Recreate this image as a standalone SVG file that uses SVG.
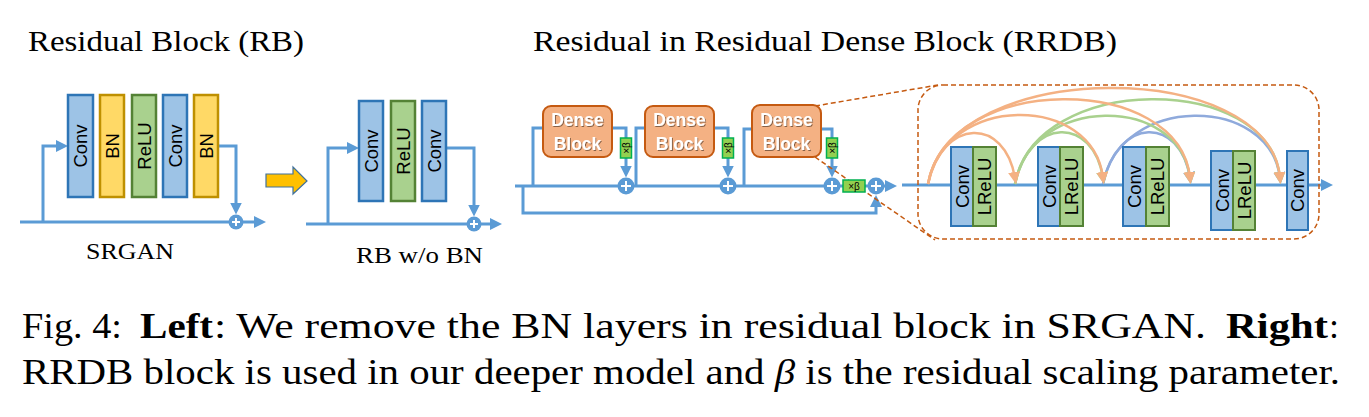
<svg xmlns="http://www.w3.org/2000/svg" width="1369" height="417" viewBox="0 0 1369 417">
<style>
.bg{fill:#fff}
.serif{fill:#000}
.lbl{font-family:"Liberation Sans",Arial,sans-serif;fill:#000;text-anchor:middle}
.conv{fill:#9DC3E6;stroke:#2E75B6;stroke-width:2.5}
.bn{fill:#FFD966;stroke:#BF9000;stroke-width:2.5}
.relu{fill:#A9D18E;stroke:#548235;stroke-width:2.5}
.dconv{fill:#9DC3E6;stroke:#2E75B6;stroke-width:2}
.dlrelu{fill:#A9D18E;stroke:#548235;stroke-width:2}
.db{fill:#F4B183;stroke:#C55A11;stroke-width:2}
.dbt{font-family:"Liberation Sans",Arial,sans-serif;font-weight:bold;font-size:17.5px;fill:#fff;text-anchor:middle}
.beta{fill:#92D050;stroke:#00B050;stroke-width:1.5}
.betat{font-family:"Liberation Sans",Arial,sans-serif;font-size:10px;fill:#000;text-anchor:middle}
.ln{fill:none;stroke:#5B9BD5;stroke-width:3}
.lnA{fill:none;stroke:#5B9BD5;stroke-width:3;marker-end:url(#ah)}
.plus{fill:#5B9BD5}
.pl{stroke:#fff;stroke-width:2;fill:none}
.dash{fill:none;stroke:#C55A11;stroke-width:1.5;stroke-dasharray:5 3}
.ao{fill:none;stroke:#F4B183;stroke-width:2.5;marker-end:url(#aho)}
.ag{fill:none;stroke:#A9D18E;stroke-width:2.5;marker-end:url(#ahg)}
.ab{fill:none;stroke:#8FAADC;stroke-width:2.5;marker-end:url(#ahb)}
</style>
<defs>
<marker id="ah" viewBox="0 0 12 12" refX="4" refY="6" markerWidth="12" markerHeight="12" markerUnits="userSpaceOnUse" orient="auto"><path d="M0,0 L12,6 L0,12 Z" fill="#5B9BD5"/></marker>
<marker id="aho" viewBox="0 0 12 12" refX="6" refY="6" markerWidth="12" markerHeight="12" markerUnits="userSpaceOnUse" orient="auto"><path d="M0,0 L12,6 L0,12 Z" fill="#F4B183"/></marker>
<marker id="ahg" viewBox="0 0 12 12" refX="6" refY="6" markerWidth="12" markerHeight="12" markerUnits="userSpaceOnUse" orient="auto"><path d="M0,0 L12,6 L0,12 Z" fill="#A9D18E"/></marker>
<marker id="ahb" viewBox="0 0 12 12" refX="6" refY="6" markerWidth="12" markerHeight="12" markerUnits="userSpaceOnUse" orient="auto"><path d="M0,0 L12,6 L0,12 Z" fill="#8FAADC"/></marker>
<filter id="sh" x="-20%" y="-20%" width="140%" height="140%"><feDropShadow dx="1" dy="1" stdDeviation="0.7" flood-color="#000" flood-opacity="0.45"/></filter>
</defs>
<rect class="bg" x="0" y="0" width="1369" height="417"/>

<g id="titles" font-family="Liberation Serif, Times New Roman, serif">
<text class="serif" x="28" y="51" font-size="30" textLength="276" lengthAdjust="spacingAndGlyphs">Residual Block (RB)</text>
<text class="serif" x="533" y="51" font-size="30" textLength="584" lengthAdjust="spacingAndGlyphs">Residual in Residual Dense Block (RRDB)</text>
<text class="serif" x="86" y="259" font-size="23" textLength="88" lengthAdjust="spacingAndGlyphs">SRGAN</text>
<text class="serif" x="356" y="263" font-size="23" textLength="127" lengthAdjust="spacingAndGlyphs">RB w/o BN</text>
</g>

<g id="connectors">
<path class="lnA" d="M20,222 H258"/>
<path class="lnA" d="M43,222 V146 H60"/>
<path class="lnA" d="M218,146 H236 V206.5"/>
<path class="lnA" d="M306,224 H494"/>
<path class="lnA" d="M328,224 V148 H351"/>
<path class="lnA" d="M446,148 H474 V208.5"/>
<path class="lnA" d="M515,186 H889"/>
<path class="ln" d="M533,186 V128 H543"/>
<path class="lnA" d="M612,128 H626 V169.5"/>
<path class="ln" d="M636,186 V128 H645"/>
<path class="lnA" d="M714,128 H728 V169.5"/>
<path class="ln" d="M744,186 V129 H752"/>
<path class="lnA" d="M821,129 H832 V169.5"/>
<path class="lnA" d="M523,186 V213 H876 V203"/>
<path class="dash" d="M815,106 L938,85"/>
<path class="dash" d="M815,157 L935,240"/>
<path class="lnA" d="M902,185 H1325"/>
</g>

<g id="orange-arrow">
<path d="M266,174 H293 V167 L307,181 L293,194 V187 H266 Z" fill="#FFC000" stroke="#41719C" stroke-width="1.2"/>
</g>

<g id="rb-srgan">
<rect class="conv" x="68" y="95" width="25" height="102"/>
<text class="lbl" font-size="18.5" transform="translate(80.5,146) rotate(-90)" dy="6.5">Conv</text>
<rect class="bn" x="100" y="95" width="24" height="102"/>
<text class="lbl" font-size="18.5" transform="translate(112,146) rotate(-90)" dy="6.5">BN</text>
<rect class="relu" x="132" y="95" width="24" height="102"/>
<text class="lbl" font-size="18.5" transform="translate(144,146) rotate(-90)" dy="6.5">ReLU</text>
<rect class="conv" x="163" y="95" width="24" height="102"/>
<text class="lbl" font-size="18.5" transform="translate(175,146) rotate(-90)" dy="6.5">Conv</text>
<rect class="bn" x="194" y="95" width="24" height="102"/>
<text class="lbl" font-size="18.5" transform="translate(206,146) rotate(-90)" dy="6.5">BN</text>
<g id="plus-rb1"><circle class="plus" cx="236" cy="222" r="7.5"/><path class="pl" d="M232,222 H240 M236,218 V226"/></g>
</g>

<g id="rb-wo-bn">
<rect class="conv" x="359" y="101" width="24" height="100"/>
<text class="lbl" font-size="18.5" transform="translate(371,151) rotate(-90)" dy="6.5">Conv</text>
<rect class="relu" x="391" y="101" width="24" height="100"/>
<text class="lbl" font-size="18.5" transform="translate(403,151) rotate(-90)" dy="6.5">ReLU</text>
<rect class="conv" x="422" y="101" width="24" height="100"/>
<text class="lbl" font-size="18.5" transform="translate(434,151) rotate(-90)" dy="6.5">Conv</text>
<g id="plus-rb2"><circle class="plus" cx="474" cy="224" r="7.5"/><path class="pl" d="M470,224 H478 M474,220 V228"/></g>
</g>

<g id="dense-block-1">
<rect class="db" x="543" y="106" width="69" height="51" rx="8"/>
<g filter="url(#sh)"><text class="dbt" x="577.5" y="126">Dense</text><text class="dbt" x="577.5" y="150">Block</text></g>
<rect class="beta" x="620.5" y="138" width="11" height="20"/>
<text class="betat" transform="translate(626,148) rotate(-90)" dy="3.5">×β</text>
<g><circle class="plus" cx="626" cy="186" r="8.5"/><path class="pl" d="M621,186 H631 M626,181 V191"/></g>
</g>

<g id="dense-block-2">
<rect class="db" x="645" y="106" width="69" height="51" rx="8"/>
<g filter="url(#sh)"><text class="dbt" x="679.5" y="126">Dense</text><text class="dbt" x="679.5" y="150">Block</text></g>
<rect class="beta" x="722.5" y="138" width="11" height="20"/>
<text class="betat" transform="translate(728,148) rotate(-90)" dy="3.5">×β</text>
<g><circle class="plus" cx="728" cy="186" r="8.5"/><path class="pl" d="M723,186 H733 M728,181 V191"/></g>
</g>

<g id="dense-block-3">
<rect class="db" x="752" y="105" width="69" height="52" rx="8"/>
<g filter="url(#sh)"><text class="dbt" x="786.5" y="126">Dense</text><text class="dbt" x="786.5" y="150">Block</text></g>
<rect class="beta" x="826.5" y="138" width="11" height="20"/>
<text class="betat" transform="translate(832,148) rotate(-90)" dy="3.5">×β</text>
<g><circle class="plus" cx="832" cy="186" r="8.5"/><path class="pl" d="M827,186 H837 M832,181 V191"/></g>
</g>

<g id="rrdb-out">
<rect class="beta" x="843" y="180" width="22" height="12"/>
<text class="betat" x="854" y="190">×β</text>
<g><circle class="plus" cx="876" cy="186" r="8.5"/><path class="pl" d="M871,186 H881 M876,181 V191"/></g>
</g>

<g id="dense-detail">
<rect class="dash" x="918" y="85" width="401" height="154" rx="25"/>
<g id="arcs">
<path class="ab" d="M1103,184 C1118,116 1180,116 1190,178"/>
<path class="ab" d="M1103,184 C1120,94 1270,94 1280,178"/>
<path class="ag" d="M1015,184 C1030,116 1093,116 1103,178"/>
<path class="ag" d="M1015,184 C1032,94 1180,94 1190,178"/>
<path class="ag" d="M1015,184 C1035,72 1270,72 1280,178"/>
<path class="ao" d="M928,184 C943,117 1005,117 1015,178"/>
<path class="ao" d="M928,184 C945,93 1093,93 1103,178"/>
<path class="ao" d="M928,184 C948,72 1180,72 1190,178"/>
<path class="ao" d="M928,184 C950,57 1270,57 1280,178"/>
</g>
<g id="layer1">
<rect class="dconv" x="951" y="147" width="22" height="79"/>
<text class="lbl" font-size="18.5" transform="translate(962,186.5) rotate(-90)" dy="6.5">Conv</text>
<rect class="dlrelu" x="973" y="147" width="23" height="79"/>
<text class="lbl" font-size="18.5" transform="translate(984.5,186.5) rotate(-90)" dy="6.5">LReLU</text>
</g>
<g id="layer2">
<rect class="dconv" x="1038" y="147" width="22" height="79"/>
<text class="lbl" font-size="18.5" transform="translate(1049,186.5) rotate(-90)" dy="6.5">Conv</text>
<rect class="dlrelu" x="1060" y="147" width="23" height="79"/>
<text class="lbl" font-size="18.5" transform="translate(1071.5,186.5) rotate(-90)" dy="6.5">LReLU</text>
</g>
<g id="layer3">
<rect class="dconv" x="1123" y="147" width="23" height="79"/>
<text class="lbl" font-size="18.5" transform="translate(1134.5,186.5) rotate(-90)" dy="6.5">Conv</text>
<rect class="dlrelu" x="1146" y="147" width="23" height="79"/>
<text class="lbl" font-size="18.5" transform="translate(1157.5,186.5) rotate(-90)" dy="6.5">LReLU</text>
</g>
<g id="layer4">
<rect class="dconv" x="1211" y="151" width="22" height="79"/>
<text class="lbl" font-size="18.5" transform="translate(1222,190.5) rotate(-90)" dy="6.5">Conv</text>
<rect class="dlrelu" x="1233" y="151" width="22" height="79"/>
<text class="lbl" font-size="18.5" transform="translate(1244,190.5) rotate(-90)" dy="6.5">LReLU</text>
</g>
<g id="layer5">
<rect class="dconv" x="1287" y="151" width="21" height="79"/>
<text class="lbl" font-size="18.5" transform="translate(1297.5,190.5) rotate(-90)" dy="6.5">Conv</text>
</g>
</g>

<g id="caption" font-family="Liberation Serif, Times New Roman, serif">
<text class="serif" x="22" y="338" font-size="36" textLength="100" lengthAdjust="spacingAndGlyphs">Fig. 4:</text>
<text class="serif" x="140" y="338" font-size="36" font-weight="bold" textLength="73" lengthAdjust="spacingAndGlyphs">Left</text>
<text class="serif" x="214" y="338" font-size="36" textLength="992" lengthAdjust="spacingAndGlyphs">: We remove the BN layers in residual block in SRGAN.</text>
<text class="serif" x="1226" y="338" font-size="36" font-weight="bold" textLength="102" lengthAdjust="spacingAndGlyphs">Right</text>
<text class="serif" x="1329" y="338" font-size="36">:</text>
<text class="serif" x="22" y="384" font-size="36" textLength="1318" lengthAdjust="spacingAndGlyphs">RRDB block is used in our deeper model and <tspan font-style="italic">β</tspan> is the residual scaling parameter.</text>
</g>
</svg>
